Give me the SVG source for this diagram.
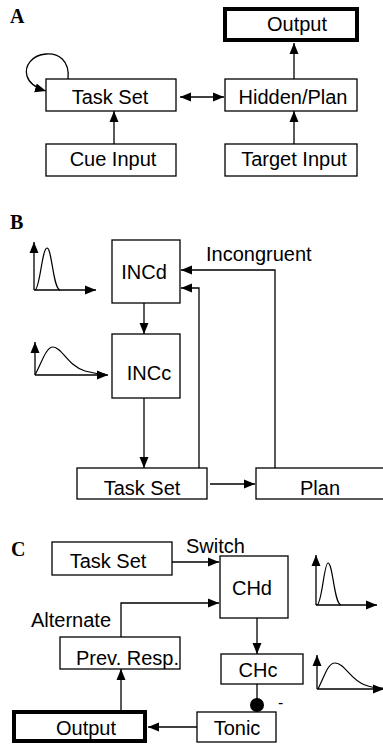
<svg xmlns="http://www.w3.org/2000/svg" width="383" height="745" viewBox="0 0 383 745">
<defs>
<marker id="ah" markerUnits="userSpaceOnUse" markerWidth="12" markerHeight="10" refX="11" refY="5" orient="auto-start-reverse">
<path d="M0,0.5 L11,5 L0,9.5 z" fill="#000"/>
</marker>
<style>
.box{fill:#fff;stroke:#000;stroke-width:1.3}
.thick{fill:#fff;stroke:#000;stroke-width:4}
.t{font-family:"Liberation Sans",Arial,sans-serif;font-size:20px;fill:#000}
.m{text-anchor:middle}
.lbl{font-family:"Liberation Serif","Times New Roman",serif;font-weight:bold;font-size:20px;fill:#000}
.c{fill:none;stroke:#000;stroke-width:1.3}
.a{fill:none;stroke:#000;stroke-width:1.3;marker-end:url(#ah)}
.cv{fill:none;stroke:#000;stroke-width:1.2}
</style>
</defs>
<rect width="383" height="745" fill="#fff"/>

<text class="lbl" x="10" y="23">A</text>
<text class="lbl" x="10" y="229">B</text>
<text class="lbl" x="11" y="556">C</text>

<g id="connectors">
<!-- A -->
<line class="a" x1="114" y1="144" x2="114" y2="111"/>
<line class="a" x1="294" y1="144" x2="294" y2="111"/>
<line class="a" x1="294" y1="79" x2="294" y2="43"/>
<line class="a" x1="180" y1="97" x2="224" y2="97" style="marker-start:url(#ah)"/>
<path class="a" d="M68,79 C70,60 58,53 46,54 C32,55 24,66 27,76 C29,83 36,88 46,91"/>
<!-- B -->
<line class="a" x1="144" y1="303" x2="144" y2="334"/>
<line class="a" x1="144" y1="398" x2="144" y2="468"/>
<line class="a" x1="210" y1="484" x2="255" y2="484"/>
<path class="a" d="M199,468 V288 H181"/>
<path class="a" d="M275,468 V270 H181"/>
<!-- C -->
<line class="a" x1="172" y1="562" x2="219" y2="562"/>
<path class="a" d="M121,637 V603 H219"/>
<line class="a" x1="257" y1="618" x2="257" y2="654"/>
<line class="c" x1="257" y1="684" x2="257" y2="705"/>
<circle cx="257" cy="705" r="7" fill="#000"/>
<line class="a" x1="197" y1="727" x2="148" y2="727"/>
<line class="a" x1="121" y1="710" x2="121" y2="669"/>
</g>

<g id="curves">
<path class="a" d="M34,290 V242"/>
<path class="a" d="M34,290 H96"/>
<path class="cv" d="M35,290 C40,289 42,248 47,248 C52,248 53,289 60,290"/>
<path class="a" d="M35,375 V342"/>
<path class="a" d="M35,375 H108"/>
<path class="cv" d="M35,375 C42,362 46,347 53,347 C62,347 68,366 85,371 C92,373 98,374 105,374"/>
<path class="a" d="M316,605 V555"/>
<path class="a" d="M316,605 H377"/>
<path class="cv" d="M317,605 C322,604 324,563 328,563 C333,563 334,604 341,605"/>
<path class="a" d="M317,689 V655"/>
<path class="a" d="M317,689 H384"/>
<path class="cv" d="M318,689 C325,675 328,663 335,663 C345,663 350,680 365,685 C372,688 378,688 383,688"/>
</g>

<g id="a-output"><rect class="thick" x="225" y="9" width="132" height="31"/><text class="t m" x="297" y="31">Output</text></g>
<g id="a-taskset"><rect class="box" x="46" y="79" width="130" height="32"/><text class="t m" x="110" y="104">Task Set</text></g>
<g id="a-hidden"><rect class="box" x="225" y="79" width="132" height="32"/><text class="t m" x="293" y="104">Hidden/Plan</text></g>
<g id="a-cue"><rect class="box" x="46" y="144" width="130" height="32"/><text class="t m" x="113" y="166">Cue Input</text></g>
<g id="a-target"><rect class="box" x="225" y="144" width="132" height="32"/><text class="t m" x="294" y="166">Target Input</text></g>

<g id="b-incd"><rect class="box" x="112" y="240" width="68" height="63"/><text class="t m" x="144" y="279">INCd</text></g>
<g id="b-incc"><rect class="box" x="112" y="334" width="68" height="64"/><text class="t m" x="149" y="380">INCc</text></g>
<g id="b-taskset"><rect class="box" x="77" y="468" width="130" height="31"/><text class="t m" x="142" y="495">Task Set</text></g>
<g id="b-plan"><rect class="box" x="256" y="468" width="140" height="31"/><text class="t m" x="320" y="495">Plan</text></g>
<text class="t" x="206" y="261">Incongruent</text>

<g id="c-taskset"><rect class="box" x="52" y="542" width="120" height="33"/><text class="t m" x="108" y="568">Task Set</text></g>
<text class="t" x="186" y="553">Switch</text>
<g id="c-chd"><rect class="box" x="220" y="556" width="68" height="62"/><text class="t m" x="252" y="595">CHd</text></g>
<text class="t" x="31" y="627">Alternate</text>
<g id="c-prev"><rect class="box" x="60" y="637" width="120" height="32"/><text class="t" x="76" y="665">Prev. Resp.</text></g>
<g id="c-chc"><rect class="box" x="221" y="654" width="82" height="30"/><text class="t m" x="258" y="677">CHc</text></g>
<text class="t" x="278" y="708" style="font-size:16px">-</text>
<g id="c-tonic"><rect class="box" x="197" y="712" width="79" height="30"/><text class="t m" x="237" y="735">Tonic</text></g>
<g id="c-output"><rect class="thick" x="14" y="712" width="131" height="29"/><text class="t m" x="86" y="735">Output</text></g>
</svg>
